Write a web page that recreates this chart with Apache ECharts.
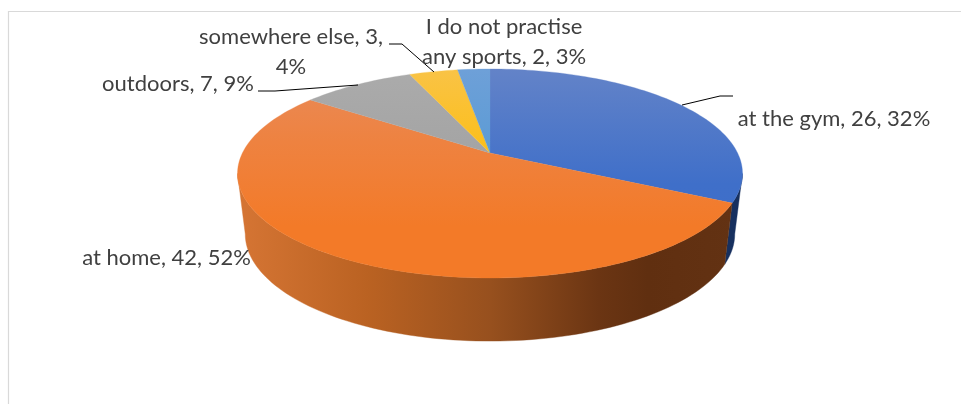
<!DOCTYPE html>
<html>
<head>
<meta charset="utf-8">
<script src="https://cdn.jsdelivr.net/npm/echarts@6/dist/echarts.min.js"></script>
<style>html,body{margin:0;padding:0;background:#fff}#c{width:961px;height:404px}</style>
</head>
<body>
<div id="c"></div>
<script>
const categories = ['at the gym', 'at home', 'outdoors', 'somewhere else', 'I do not practise any sports'];
const values = [26, 42, 7, 3, 2];
const percents = [32, 52, 9, 4, 3];

const total = values.reduce((a, b) => a + b, 0);
const D2R = Math.PI / 180;
const P = 0.196;
const topFace = { ax: 490, ay: 153, R: 247.6, S: 100.5 };
const baseFace = { ax: 490, ay: 213, R: 240, S: 103 };
const SIL_R = 101.3, SIL_L = 258.7;

function project(f, deg) {
  const t = deg * D2R, u = Math.sin(t), v = -Math.cos(t), w = 1 - P * v;
  return [f.ax + f.R * u / w, f.ay + f.S * v / w];
}
function arc(f, a0, a1) {
  const n = Math.max(2, Math.ceil(Math.abs(a1 - a0) / 1.5)), pts = [];
  for (let i = 0; i <= n; i++) pts.push(project(f, a0 + (a1 - a0) * i / n));
  return pts;
}
function range(i) {
  let s = 0;
  for (let k = 0; k < i; k++) s += values[k];
  return [s / total * 360, (s + values[i]) / total * 360];
}
function vGrad(stops) {
  return { type: 'linear', x: 0, y: 69, x2: 0, y2: 278, global: true,
    colorStops: stops.map(s => ({ offset: s[0], color: s[1] })) };
}
function hGrad(stops) {
  return { type: 'linear', x: 245, y: 0, x2: 736, y2: 0, global: true,
    colorStops: stops.map(s => ({ offset: s[0], color: s[1] })) };
}
const topFills = [
  vGrad([[0, '#6383C8'], [0.55, '#3F6FC9'], [1, '#3C6EC9']]),
  vGrad([[0, '#E98B5A'], [0.35, '#EE8240'], [0.75, '#F37A28'], [1, '#F37A28']]),
  vGrad([[0, '#ABABAB'], [0.4, '#A4A4A4'], [1, '#A4A4A4']]),
  vGrad([[0, '#F9C346'], [0.4, '#FCBF19'], [1, '#FCBF19']]),
  vGrad([[0, '#6EA0D8'], [0.4, '#5B9BD5'], [1, '#5B9BD5']])
];
const wallFills = [
  '#17305F',
  hGrad([[0, '#D47433'], [0.25, '#BA6222'], [0.5, '#97501E'], [0.72, '#6B3513'], [0.82, '#602F10'], [1, '#633213']]),
  '#777', '#A07810', '#3A6690'
];
const FONT = '22px Lato';
const TEXT = '#404040';
const labelPos = [
  { x: 834, y: 119, lines: i => [`${categories[i]}, ${values[i]}, ${percents[i]}%`] },
  { x: 166.5, y: 258, lines: i => [`${categories[i]}, ${values[i]}, ${percents[i]}%`] },
  { x: 178, y: 84, lines: i => [`${categories[i]}, ${values[i]}, ${percents[i]}%`] },
  { x: 291, y: 37, lines: i => [`${categories[i]}, ${values[i]},`, `${percents[i]}%`] },
  { x: 504, y: 27, lines: i => ['I do not practise', `any sports, ${values[i]}, ${percents[i]}%`] }
];
const leaders = [
  [[682, 105], [720, 96], [733, 96]],
  null,
  [[258, 91], [275, 91], [358, 85]],
  [[389, 44], [402, 44], [434, 72]],
  null
];
const seriesData = categories.map((c, i) => ({ name: c, value: [values[i], i] }));

function wallItem(params) {
  const r = range(params.dataIndex);
  const a0 = Math.max(r[0], SIL_R), a1 = Math.min(r[1], SIL_L);
  if (a1 <= a0) return null;
  const pts = arc(topFace, a0, a1).concat(arc(baseFace, a1, a0));
  const fill = wallFills[params.dataIndex];
  return { type: 'polygon', shape: { points: pts }, style: { fill, stroke: fill, lineWidth: 0.4 } };
}
function topItem(params) {
  const r = range(params.dataIndex);
  const pts = [[topFace.ax, topFace.ay]].concat(arc(topFace, r[0], r[1]));
  const fill = topFills[params.dataIndex];
  return { type: 'polygon', shape: { points: pts }, style: { fill, stroke: fill, lineWidth: 0.3 } };
}
function labelItem(params) {
  const i = params.dataIndex, L = labelPos[i], kids = [];
  if (leaders[i]) kids.push({ type: 'polyline', shape: { points: leaders[i] },
    style: { fill: null, stroke: '#000', lineWidth: 1 } });
  L.lines(i).forEach((t, k) => kids.push({ type: 'text', x: L.x, y: L.y + k * 29.7,
    style: { text: t, font: FONT, fill: TEXT, textAlign: 'center', textVerticalAlign: 'middle' } }));
  return { type: 'group', children: kids };
}
const chart = echarts.init(document.getElementById('c'), null, { renderer: 'canvas' });
chart.setOption({
  animation: false,
  backgroundColor: '#fff',
  graphic: [{ type: 'polyline', silent: true, shape: { points: [[8.5, 404], [8.5, 11.5], [961, 11.5]] },
    style: { fill: null, stroke: '#D9D9D9', lineWidth: 1.2 } }],
  series: [
    { type: 'custom', coordinateSystem: 'none', renderItem: wallItem, data: seriesData, silent: true, z: 2 },
    { type: 'custom', coordinateSystem: 'none', renderItem: topItem, data: seriesData, silent: true, z: 3 },
    { type: 'custom', coordinateSystem: 'none', renderItem: labelItem, data: seriesData, silent: true, z: 4 }
  ]
});
</script>
</body>
</html>
